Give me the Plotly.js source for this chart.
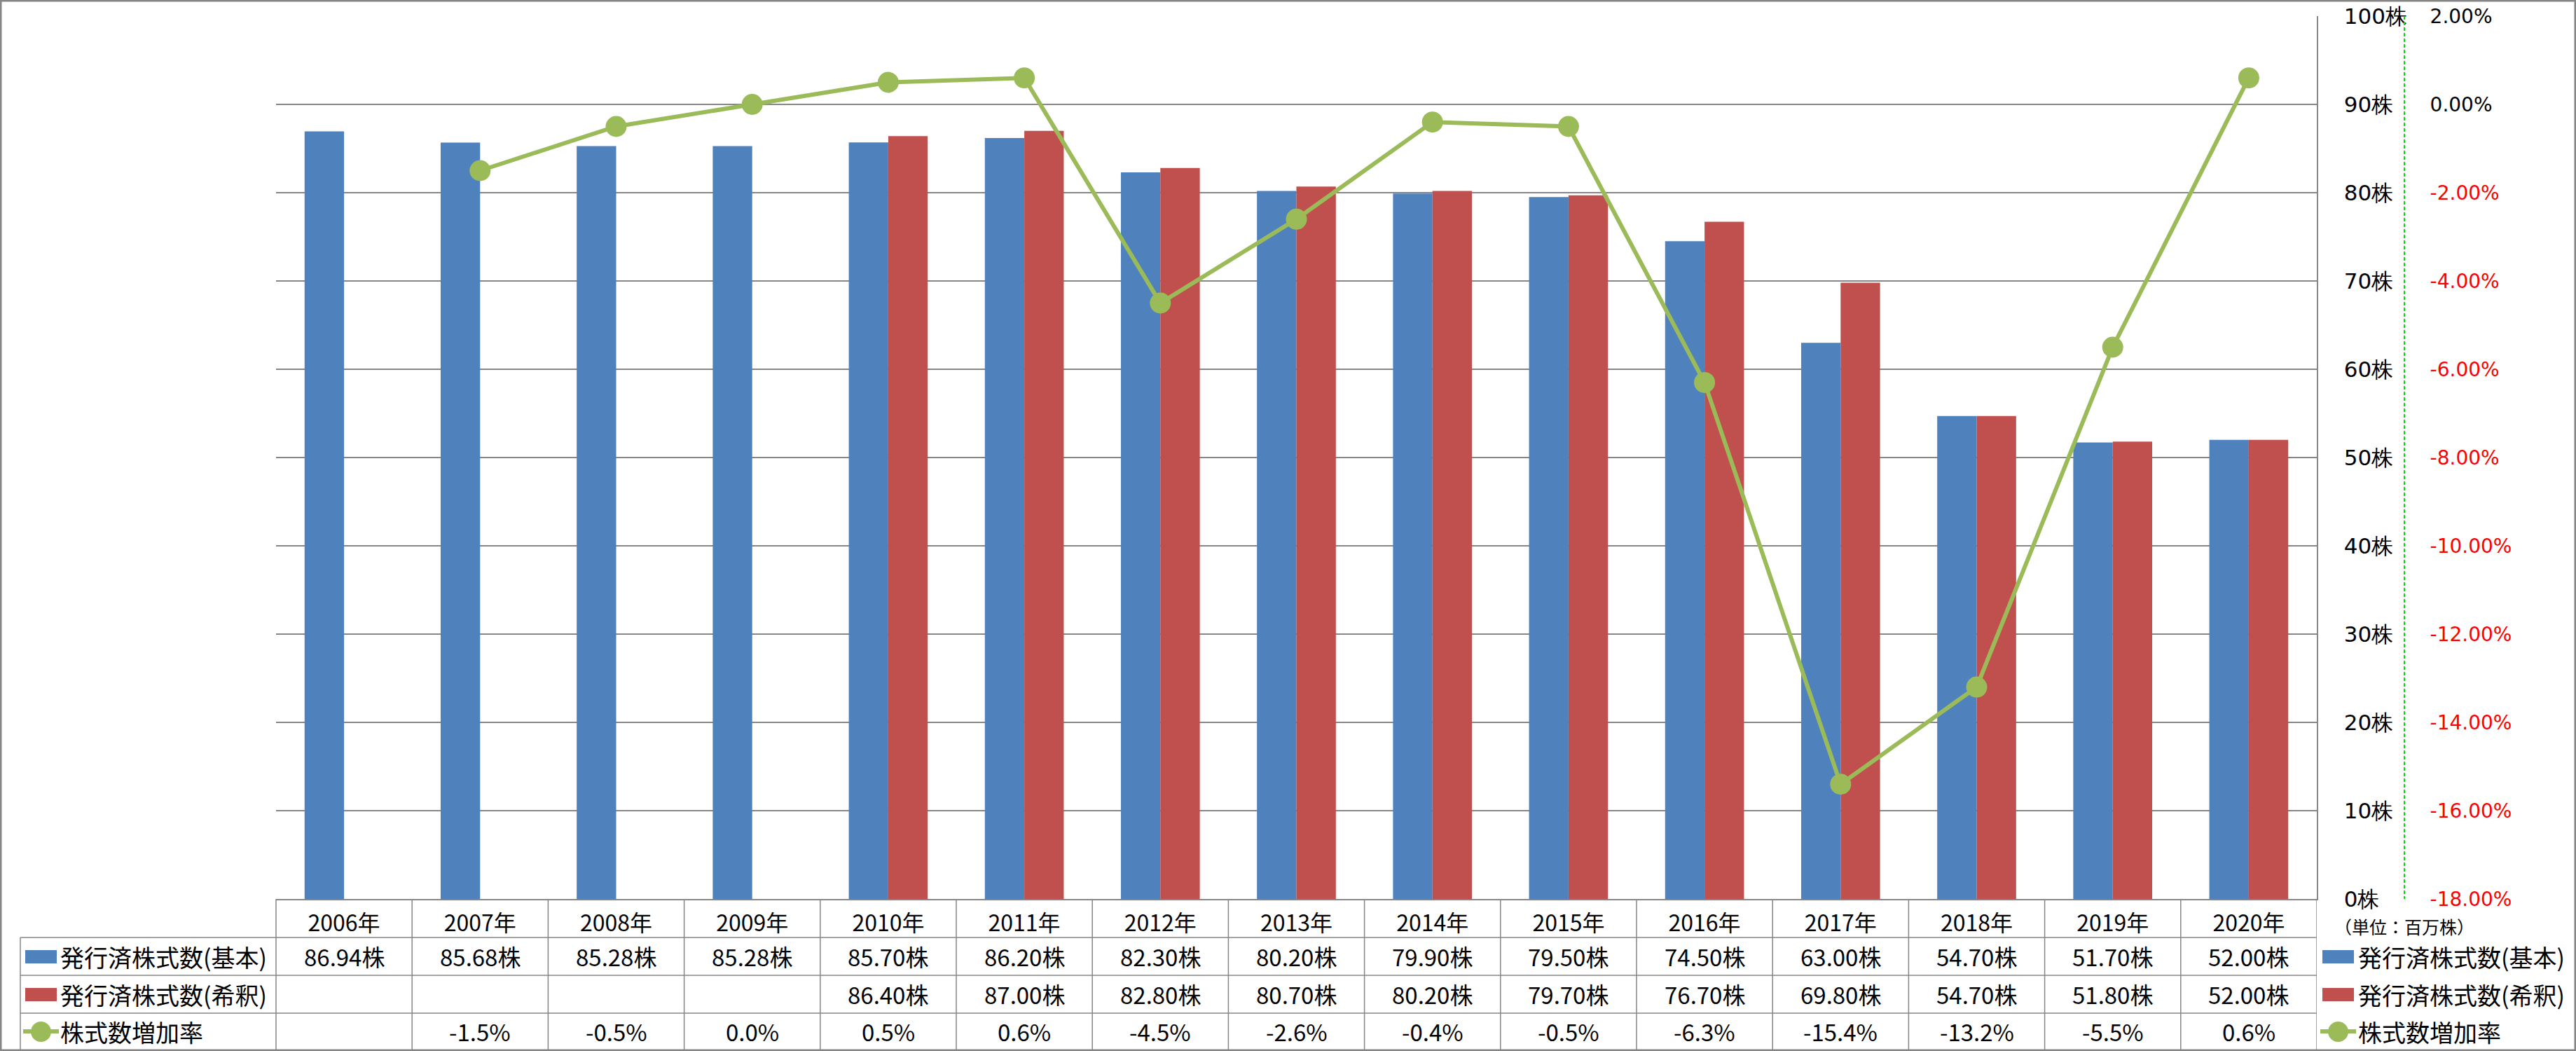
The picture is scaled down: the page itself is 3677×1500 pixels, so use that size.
<!DOCTYPE html>
<html>
<head>
<meta charset="utf-8">
<script src="https://cdn.plot.ly/plotly-3.0.1.min.js"></script>
<style>
  body { margin: 0; background: #fff; }
  #chart { width: 3677px; height: 1500px; }
</style>
</head>
<body>
<div id="chart"></div>
<script>
const years = ['2006年', '2007年', '2008年', '2009年', '2010年', '2011年', '2012年', '2013年',
               '2014年', '2015年', '2016年', '2017年', '2018年', '2019年', '2020年'];
const basicShares = [86.94, 85.68, 85.28, 85.28, 85.70, 86.20, 82.30, 80.20, 79.90, 79.50, 74.50, 63.00, 54.70, 51.70, 52.00];
const dilutedShares = [null, null, null, null, 86.40, 87.00, 82.80, 80.70, 80.20, 79.70, 76.70, 69.80, 54.70, 51.80, 52.00];
const growthRate = [null, -1.5, -0.5, 0.0, 0.5, 0.6, -4.5, -2.6, -0.4, -0.5, -6.3, -15.4, -13.2, -5.5, 0.6];
const seriesNames = ['発行済株式数(基本)', '発行済株式数(希釈)', '株式数増加率'];
const seriesColors = ['#4F81BD', '#C0504D', '#9BBB59'];
const shareTicks = [0, 10, 20, 30, 40, 50, 60, 70, 80, 90, 100];
const rateTicks = [-18, -16, -14, -12, -10, -8, -6, -4, -2, 0, 2];
const unitNote = '（単位：百万株）';

// page pixels -> paper coords (margins are zero)
const W = 3677, H = 1500;
function px(x) { return x / W; }
function py(y) { return 1 - y / H; }

const plotLeft = 394, plotRight = 3307, plotTop = 23, plotBottom = 1283;
const rateAxisX = 3432;
const rowY = [1365, 1419, 1472];
const rowLines = [1338, 1392, 1446];
const gridGrey = '#868686';
const axisGreen = '#00DD00';
const cjk = 'Noto Sans CJK JP, Noto Sans, sans-serif';

const data = [
  {type: 'bar', x: years, y: basicShares, name: seriesNames[0],
   marker: {color: seriesColors[0]}, hoverinfo: 'skip'},
  {type: 'bar', x: years, y: dilutedShares, name: seriesNames[1],
   marker: {color: seriesColors[1]}, hoverinfo: 'skip'},
  {type: 'scatter', mode: 'lines+markers', x: years, y: growthRate, yaxis: 'y2',
   name: seriesNames[2], line: {color: seriesColors[2], width: 6},
   marker: {color: seriesColors[2], size: 30}, hoverinfo: 'skip'}
];

const shapes = [];
const annotations = [];

// table grid
rowLines.forEach(function(y) {
  shapes.push({type: 'line', xref: 'paper', yref: 'paper', x0: px(29), x1: px(plotRight),
               y0: py(y), y1: py(y), line: {color: gridGrey, width: 1.5}});
});
shapes.push({type: 'line', xref: 'paper', yref: 'paper', x0: px(29), x1: px(29),
             y0: py(1338), y1: py(1498), line: {color: gridGrey, width: 1.5}});
shapes.push({type: 'line', xref: 'paper', yref: 'paper', x0: px(plotLeft), x1: px(plotLeft),
             y0: py(plotBottom), y1: py(1498), line: {color: gridGrey, width: 1.5}});
years.forEach(function(yr, i) {
  shapes.push({type: 'line', xref: 'x', yref: 'paper', x0: i + 0.5, x1: i + 0.5,
               y0: py(plotBottom), y1: py(1498), line: {color: gridGrey, width: 1.5}});
});

// table values
years.forEach(function(yr, i) {
  const cells = [
    basicShares[i] === null ? '' : basicShares[i].toFixed(2) + '株',
    dilutedShares[i] === null ? '' : dilutedShares[i].toFixed(2) + '株',
    growthRate[i] === null ? '' : growthRate[i].toFixed(1) + '%'
  ];
  cells.forEach(function(t, r) {
    if (!t) return;
    annotations.push({xref: 'x', yref: 'paper', x: yr, y: py(rowY[r]), text: t,
                      showarrow: false, xanchor: 'center', yanchor: 'middle',
                      font: {family: cjk, size: 33, color: '#000'}});
  });
});

// legend keys, in the table and on the right
function legendKeys(keyX, textX) {
  seriesNames.forEach(function(name, r) {
    const cy = rowY[r];
    if (r < 2) {
      shapes.push({type: 'rect', xref: 'paper', yref: 'paper', x0: px(keyX), x1: px(keyX + 45),
                   y0: py(cy - 9), y1: py(cy + 10), fillcolor: seriesColors[r], line: {width: 0}});
    } else {
      shapes.push({type: 'line', xref: 'paper', yref: 'paper', x0: px(keyX - 3), x1: px(keyX + 48),
                   y0: py(cy), y1: py(cy), line: {color: seriesColors[2], width: 6}});
      shapes.push({type: 'circle', xref: 'paper', yref: 'paper', x0: px(keyX + 8), x1: px(keyX + 37),
                   y0: py(cy - 14), y1: py(cy + 15), fillcolor: seriesColors[2], line: {width: 0}});
    }
    annotations.push({xref: 'paper', yref: 'paper', x: px(textX), y: py(cy), text: name,
                      showarrow: false, xanchor: 'left', yanchor: 'middle',
                      font: {family: cjk, size: 34, color: '#000'}});
  });
}
legendKeys(36, 84);
legendKeys(3315, 3364);

annotations.push({xref: 'paper', yref: 'paper', x: px(3330), y: py(1322), text: unitNote,
                  showarrow: false, xanchor: 'left', yanchor: 'middle',
                  font: {family: cjk, size: 25, color: '#000'}});

// dashed secondary axis line
shapes.push({type: 'line', xref: 'paper', yref: 'paper', x0: px(rateAxisX), x1: px(rateAxisX),
             y0: py(plotTop), y1: py(plotBottom), line: {color: axisGreen, width: 2, dash: '5px,3px'}});

// outer frame
shapes.push({type: 'rect', xref: 'paper', yref: 'paper', x0: 0, x1: 1, y0: 0, y1: 1,
             line: {color: gridGrey, width: 5}});

const shareText = shareTicks.map(function(v) { return v + '株'; });
const rateText = rateTicks.map(function(v) {
  const s = v.toFixed(2) + '%';
  return v < 0 ? '<span style="color:#FF0000">' + s + '</span>' : s;
});

const layout = {
  width: W, height: H,
  margin: {l: 0, r: 0, t: 0, b: 0},
  paper_bgcolor: '#fff', plot_bgcolor: '#fff',
  showlegend: false,
  barmode: 'group', bargap: 0.42, bargroupgap: 0,
  xaxis: {
    type: 'category', domain: [px(plotLeft), px(plotRight)], range: [-0.5, 14.5],
    showline: true, linecolor: gridGrey, linewidth: 1.5,
    ticks: 'outside', ticklen: 6, tickcolor: 'rgba(0,0,0,0)', showgrid: false,
    tickfont: {family: cjk, size: 32, color: '#000'}
  },
  yaxis: {
    domain: [py(plotBottom), py(plotTop)], range: [0, 100], side: 'right',
    tickvals: shareTicks, ticktext: shareText,
    showgrid: true, gridcolor: gridGrey, gridwidth: 1.5, zeroline: false,
    showline: true, linecolor: gridGrey, linewidth: 1.5,
    ticks: 'outside', ticklen: 31, tickcolor: 'rgba(0,0,0,0)',
    tickfont: {family: 'DejaVu Sans, sans-serif', size: 31, color: '#000'}
  },
  yaxis2: {
    overlaying: 'y', side: 'right', anchor: 'free', position: px(rateAxisX),
    range: [-18, 2], tickvals: rateTicks, ticktext: rateText,
    showgrid: false, zeroline: false, showline: false,
    ticks: 'outside', ticklen: 30, tickcolor: 'rgba(0,0,0,0)',
    tickfont: {family: 'DejaVu Sans, sans-serif', size: 28, color: '#000'}
  },
  yaxis3: {
    overlaying: 'y', side: 'right', anchor: 'free', position: px(rateAxisX),
    range: [-18, 2], tickvals: rateTicks, showticklabels: false,
    showgrid: false, zeroline: false, showline: false,
    ticks: 'outside', ticklen: 11, tickcolor: axisGreen, tickwidth: 1.5
  },
  shapes: shapes,
  annotations: annotations
};

Plotly.newPlot('chart', data, layout, {displayModeBar: false, staticPlot: true});
</script>
</body>
</html>
